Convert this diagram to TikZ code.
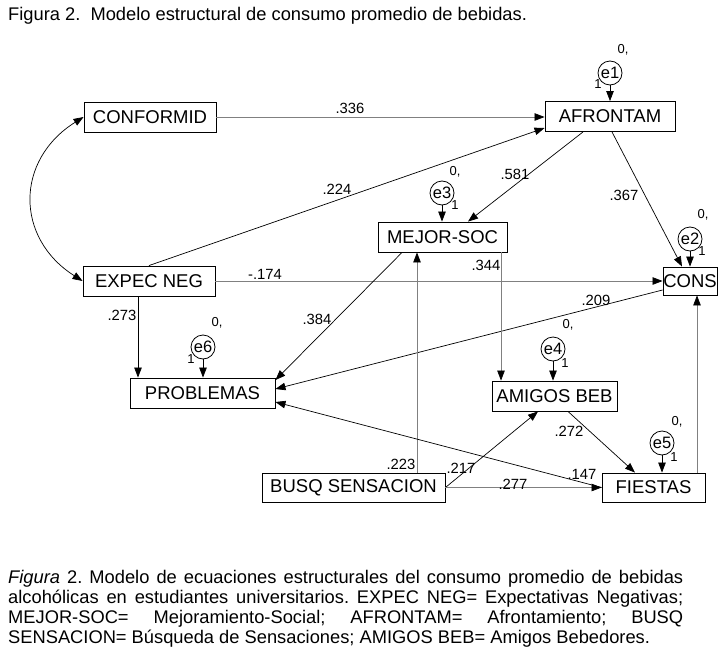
\documentclass[tikz,border=0pt]{standalone}
\usepackage{fontspec}
\setmainfont{Liberation Sans}
\usetikzlibrary{arrows.meta,calc}
\frenchspacing
\begin{document}
\begin{tikzpicture}[x=1pt,y=-1pt,
  box/.style={draw,line width=0.9pt,minimum height=30pt,inner sep=0pt,font=\fontsize{18.5}{20}\selectfont},
  err/.style={draw,circle,line width=0.8pt,minimum size=24pt,inner sep=0pt,font=\fontsize{16.5}{18}\selectfont},
  coef/.style={inner sep=0pt,font=\fontsize{14.8}{16}\selectfont},
  small/.style={inner sep=0pt,font=\fontsize{13}{15}\selectfont},
  captxt/.style={inner sep=0pt,anchor=base west,font=\fontsize{18.3}{20}\selectfont},
  arr/.style={line width=0.7pt,-{Triangle[length=10pt,width=7.5pt,color=black,fill=black]}},
  garr/.style={arr,draw=black!50},
]
\fill[white] (0,0) rectangle (725,653);
\useasboundingbox (0,0) rectangle (725,653);

\node[captxt] (title) at (8,20) {Figura 2.\ \ Modelo estructural de consumo promedio de bebidas.};

% boxes
\node[box,minimum width=132pt] (conf) at (150,117) {CONFORMID};
\node[box,minimum width=130pt] (afr) at (610,116.5) {AFRONTAM};
\node[box,minimum width=129pt] (mejor) at (442.5,237) {MEJOR-SOC};
\node[box,minimum width=54pt,minimum height=28pt] (cons) at (690,281) {CONS};
\node[box,minimum width=132pt] (expec) at (149,281) {EXPEC NEG};
\node[box,minimum width=145pt] (prob) at (202.5,393) {PROBLEMAS};
\node[box,minimum width=125pt] (amigos) at (554.5,396) {AMIGOS BEB};
\node[box,minimum width=183pt,minimum height=29pt] (busq) at (353.5,487.5) {BUSQ SENSACION};
\node[box,minimum width=103pt,minimum height=29pt] (fiestas) at (653.5,487.5) {FIESTAS};

% error terms
\node[err] (e1) at (610,73) {e1};
\node[err] (e3) at (442,193) {e3};
\node[err] (e2) at (690,239) {e2};
\node[err] (e6) at (203,347) {e6};
\node[err] (e4) at (553,349) {e4};
\node[err] (e5) at (662,443) {e5};

\node[small] (z1) at (623,50) {0,};  \node[small] (o1) at (598,84) {1};
\node[small] (z3) at (455,172) {0,}; \node[small] (o3) at (455,205) {1};
\node[small] (z2) at (703,215) {0,}; \node[small] (o2) at (702,251) {1};
\node[small] (z6) at (217,323) {0,}; \node[small] (o6) at (191,359) {1};
\node[small] (z4) at (568,325) {0,}; \node[small] (o4) at (565,363) {1};
\node[small] (z5) at (677,422) {0,}; \node[small] (o5) at (674,457) {1};

% error arrows
\draw[arr] (e1.south) -- (e1.south |- afr.north);
\draw[arr] (e3.south) -- (e3.south |- mejor.north);
\draw[arr] (e2.south) -- (e2.south |- cons.north);
\draw[arr] (e6.south) -- (e6.south |- prob.north);
\draw[arr] (e4.south) -- (e4.south |- amigos.north);
\draw[arr] (e5.south) -- (e5.south |- fiestas.north);

% paths
\draw[garr] (conf.east) -- (conf.east -| afr.west);
\draw[arr] (expec.north) -- ([yshift=-11.5pt]afr.west);
\draw[arr] ([xshift=-27pt]afr.south) -- ([xshift=25.5pt]mejor.north);
\draw[arr] ([xshift=2pt]afr.south) -- ([xshift=-8pt]cons.north);
\draw[garr] (expec.east) -- (expec.east -| cons.west);
\draw[arr] ([xshift=-11pt]expec.south) coordinate (p1) -- (p1 |- prob.north);
\draw[arr] ([xshift=-40.5pt]mejor.south) -- ([yshift=13pt]prob.east);
\draw[arr] ([yshift=-9pt]cons.west) -- ([yshift=4pt]prob.east);
\draw[garr] ([xshift=58.5pt]mejor.south) coordinate (p2) -- (p2 |- amigos.north);
\draw[garr] ([xshift=63.5pt]busq.north) coordinate (p3) -- (p3 |- mejor.south);
\draw[arr] (busq.east) -- ([xshift=-16.5pt]amigos.south);
\draw[garr] (busq.east) -- (fiestas.west);
\draw[arr] ([xshift=13.5pt]amigos.south) -- ([xshift=-18.5pt]fiestas.north);
\draw[arr] (fiestas.west) -- ([yshift=-9pt]prob.east);
\draw[garr] ([xshift=43.5pt]fiestas.north) coordinate (p4) -- (p4 |- cons.south);
\draw[line width=0.7pt,{Triangle[length=10pt,width=7.5pt]}-{Triangle[length=10pt,width=7.5pt]}]
  (conf.west) .. controls (15,160) and (15,238) .. (expec.west);

% coefficients
\node[coef] (c1) at (350,108) {.336};
\node[coef] (c2) at (337,189) {.224};
\node[coef] (c3) at (515,174) {.581};
\node[coef] (c4) at (624,195) {.367};
\node[coef] (c5) at (265,274) {-.174};
\node[coef] (c6) at (122,315) {.273};
\node[coef] (c7) at (317,319) {.384};
\node[coef] (c8) at (596,300) {.209};
\node[coef] (c9) at (486,265) {.344};
\node[coef] (c10) at (401,464) {.223};
\node[coef] (c11) at (461,468) {.217};
\node[coef] (c12) at (513,484) {.277};
\node[coef] (c13) at (569,431) {.272};
\node[coef] (c14) at (582,474) {.147};

% caption
\node[captxt] (cap1) at (8,583) {\makebox[675pt][s]{\textit{Figura} 2. Modelo de ecuaciones estructurales del consumo promedio de bebidas}};
\node[captxt] (cap2) at (8,603) {\makebox[675pt][s]{alcohólicas en estudiantes universitarios. EXPEC NEG= Expectativas Negativas;}};
\node[captxt] (cap3) at (8,623) {\makebox[675pt][s]{MEJOR-SOC= Mejoramiento-Social; AFRONTAM= Afrontamiento; BUSQ}};
\node[captxt] (cap4) at (8,643) {SENSACION= Búsqueda de Sensaciones; AMIGOS BEB= Amigos Bebedores.};
\end{tikzpicture}
\end{document}
